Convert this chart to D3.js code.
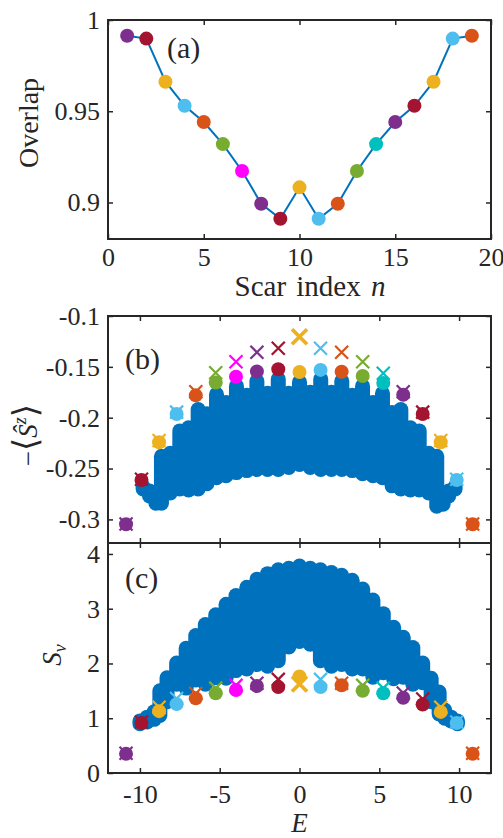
<!DOCTYPE html>
<html>
<head>
<meta charset="utf-8">
<script src="https://cdn.jsdelivr.net/npm/d3@7"></script>
<style>
  body { margin: 0; background: #fff; }
  svg text { font-family: "Liberation Serif", "DejaVu Serif", serif; fill: #262626; }
</style>
</head>
<body>
<svg width="503" height="838"></svg>
<script>
// ---- data ----
const scarN = [1, 2, 3, 4, 5, 6, 7, 8, 9, 10, 11, 12, 13, 14, 15, 16, 17, 18, 19];
const scarColors = ["#7E2F8E", "#A2142F", "#EDB120", "#4DBEEE", "#D95319", "#77AC30", "#FF00FF",
                    "#7E2F8E", "#A2142F", "#EDB120", "#4DBEEE", "#D95319", "#77AC30", "#00BFBF",
                    "#7E2F8E", "#A2142F", "#EDB120", "#4DBEEE", "#D95319"];
const overlap = [0.9914, 0.9898, 0.9662, 0.9530, 0.9441, 0.9320, 0.9173, 0.8993, 0.8911, 0.9083,
                 0.8911, 0.8993, 0.9173, 0.9320, 0.9441, 0.9530, 0.9662, 0.9898, 0.9914];
const scarE = [-10.87, -9.9, -8.8, -7.7, -6.5, -5.25, -3.98, -2.67, -1.33, 0,
               1.32, 2.64, 3.96, 5.25, 6.5, 7.72, 8.85, 9.85, 10.85];
// panel (b): -<S^z> of the scars (circles) and of the crosses
const szScar = [-0.3048, -0.2613, -0.2242, -0.1964, -0.1780, -0.1655, -0.1597, -0.1546, -0.1524, -0.1550,
                -0.1530, -0.1548, -0.1590, -0.1659, -0.1774, -0.1964, -0.2242, -0.2613, -0.3048];
const szCross = [-0.3045, -0.2605, -0.2225, -0.1945, -0.1745, -0.1558, -0.1449, -0.1357, -0.1318, -0.1204,
                 -0.1318, -0.1357, -0.1449, -0.1563, -0.1745, -0.1945, -0.2225, -0.2605, -0.3045];
// panel (c): S_v of the scars (circles) and of the crosses
const svScar = [0.35, 0.913, 1.129, 1.258, 1.363, 1.455, 1.516, 1.589, 1.571, 1.761,
                1.571, 1.602, 1.503, 1.455, 1.374, 1.252, 1.116, 0.913, 0.35];
const svCross = [0.36, 0.93, 1.2, 1.36, 1.45, 1.55, 1.6, 1.64, 1.71, 1.625,
                 1.71, 1.64, 1.6, 1.55, 1.46, 1.35, 1.2, 0.93, 0.36];

// full spectrum (blue), each entry is a column of overlapping eigenstates: E, lowest, highest
const specE_b  = [-9.8, -9.4, -9.0, -8.65, -8.1, -7.5, -6.95, -6.35, -5.8, -5.2, -4.6, -3.95, -3.3, -2.67, -2.0, -1.33, -0.67, 0,
                  0.67, 1.33, 2.0, 2.65, 3.3, 3.95, 4.6, 5.2, 5.8, 6.35, 6.95, 7.5, 8.1, 8.6, 9.0, 9.35, 9.75];
const specLo_b = [-0.270, -0.277, -0.284, -0.284, -0.274, -0.270, -0.271, -0.270, -0.265, -0.259, -0.257, -0.254, -0.252, -0.251, -0.251, -0.251, -0.249, -0.246,
                  -0.249, -0.251, -0.251, -0.251, -0.252, -0.255, -0.257, -0.259, -0.267, -0.270, -0.271, -0.271, -0.274, -0.287, -0.285, -0.277, -0.270];
const specHi_b = [-0.268, -0.272, -0.275, -0.238, -0.235, -0.213, -0.210, -0.192, -0.196, -0.177, -0.185, -0.169, -0.178, -0.164, -0.176, -0.162, -0.176, -0.165,
                  -0.175, -0.162, -0.175, -0.164, -0.178, -0.169, -0.185, -0.176, -0.195, -0.192, -0.210, -0.213, -0.235, -0.238, -0.276, -0.272, -0.268];

const specE_c  = [-10.0, -9.55, -9.1, -8.75, -8.3, -7.7, -7.1, -6.5, -5.9, -5.25, -4.6, -3.98, -3.3, -2.66, -2.0, -1.33, -0.67, 0,
                  0.67, 1.31, 2.0, 2.64, 3.3, 3.96, 4.6, 5.25, 5.9, 6.5, 7.1, 7.72, 8.25, 8.75, 9.1, 9.5, 9.9];
const specLo_c = [0.90, 0.93, 0.98, 1.05, 1.30, 1.62, 1.55, 1.70, 1.62, 1.74, 1.73, 1.87, 1.90, 1.98, 1.95, 2.05, 2.30, 2.40,
                  2.35, 2.05, 1.95, 1.98, 1.90, 1.90, 1.75, 1.83, 1.72, 1.75, 1.62, 1.65, 1.30, 1.08, 1.00, 0.95, 0.90];
const specHi_c = [0.95, 1.02, 1.12, 1.50, 1.74, 2.01, 2.28, 2.51, 2.71, 2.89, 3.08, 3.24, 3.39, 3.54, 3.64, 3.71, 3.74, 3.78,
                  3.74, 3.71, 3.66, 3.61, 3.52, 3.36, 3.16, 2.91, 2.66, 2.48, 2.29, 2.01, 1.73, 1.48, 1.15, 1.02, 0.95];

const ticksN = [0, 5, 10, 15, 20];
const ticksOverlap = [0.9, 0.95, 1];
const ticksE = [-10, -5, 0, 5, 10];
const ticksSz = [-0.3, -0.25, -0.2, -0.15, -0.1];
const ticksSv = [0, 1, 2, 3, 4];

// ---- layout ----
const svg = d3.select("svg");
const left = 108, right = 491;
const blue = "#0072BD", ink = "#262626";
const rDot = 7, rSpec = 7.5, hx = 6.5;
const tickFont = 26, labelFont = 28;

const xA = d3.scaleLinear([0, 20], [left, right]);
const yA = d3.scaleLinear([0.88, 1], [239, 20]);
const xE = d3.scaleLinear([-12, 12], [left, right]);
const yB = d3.scaleLinear([-0.3232, -0.1], [543, 316]);
const yC = d3.scaleLinear([0, 4.2], [773, 543]);

function drawAxes(x, y, xt, yt, showX, xPad) {
  const g = svg.append("g");
  const [y0, y1] = y.range();
  const fmt = (d) => String(d);
  const none = () => "";
  g.append("g").attr("transform", `translate(0,${y0})`)
    .call(d3.axisBottom(x).tickValues(xt).tickSize(-5).tickPadding(xPad).tickFormat(showX ? fmt : none));
  g.append("g").attr("transform", `translate(0,${y1})`)
    .call(d3.axisTop(x).tickValues(xt).tickSize(-5).tickFormat(none));
  g.append("g").attr("transform", `translate(${left},0)`)
    .call(d3.axisLeft(y).tickValues(yt).tickSize(-5).tickPadding(8).tickFormat(fmt));
  g.append("g").attr("transform", `translate(${right},0)`)
    .call(d3.axisRight(y).tickValues(yt).tickSize(-5).tickFormat(none));
  g.selectAll(".domain").remove();
  g.selectAll(".tick line").attr("stroke", ink).attr("stroke-width", 1.5);
  g.selectAll(".tick text").attr("font-size", tickFont).attr("fill", ink);
  g.selectAll("g").attr("font-family", null);
  g.append("rect")
    .attr("x", left).attr("y", y1)
    .attr("width", right - left).attr("height", y0 - y1)
    .attr("fill", "none").attr("stroke", ink).attr("stroke-width", 2);
}

function crossPath(h) {
  return `M${-h},${-h}L${h},${h}M${-h},${h}L${h},${-h}`;
}

// ---- (a) overlap ----
const ga = svg.append("g");
ga.append("path")
  .datum(scarN)
  .attr("fill", "none").attr("stroke", blue).attr("stroke-width", 2)
  .attr("d", d3.line().x((n) => xA(n)).y((n, i) => yA(overlap[i])));
ga.selectAll("circle").data(scarN).enter().append("circle")
  .attr("cx", (n) => xA(n)).attr("cy", (n, i) => yA(overlap[i]))
  .attr("r", rDot).attr("fill", (n, i) => scarColors[i]);
drawAxes(xA, yA, ticksN, ticksOverlap, true, 9);

// ---- (b) and (c) ----
function spectrumPanel(y, specE, specLo, specHi, scarVals, crossVals) {
  const g = svg.append("g");
  g.selectAll("line.spec").data(specE).enter().append("line")
    .attr("class", "spec")
    .attr("x1", (e) => xE(e)).attr("x2", (e) => xE(e))
    .attr("y1", (e, i) => y(specLo[i])).attr("y2", (e, i) => y(specHi[i]))
    .attr("stroke", blue).attr("stroke-width", 2 * rSpec).attr("stroke-linecap", "round");
  g.selectAll("path.cross").data(scarE).enter().append("path")
    .attr("class", "cross")
    .attr("transform", (e, i) => `translate(${xE(e)},${y(crossVals[i])})`)
    .attr("d", (e, i) => crossPath(i == 9 ? 7.5 : hx))
    .attr("fill", "none")
    .attr("stroke", (e, i) => scarColors[i])
    .attr("stroke-width", (e, i) => i == 9 ? 3.8 : 2.2);
  g.selectAll("circle").data(scarE).enter().append("circle")
    .attr("cx", (e) => xE(e)).attr("cy", (e, i) => y(scarVals[i]))
    .attr("r", rDot).attr("fill", (e, i) => scarColors[i]);
}

spectrumPanel(yB, specE_b, specLo_b, specHi_b, szScar, szCross);
drawAxes(xE, yB, ticksE, ticksSz, false, 10);
spectrumPanel(yC, specE_c, specLo_c, specHi_c, svScar, svCross);
drawAxes(xE, yC, ticksE, ticksSv, true, 12);

// ---- labels ----
svg.append("text").attr("x", 167).attr("y", 58).attr("font-size", 30).text("(a)");
svg.append("text").attr("x", 125).attr("y", 369).attr("font-size", 30).text("(b)");
svg.append("text").attr("x", 125).attr("y", 588).attr("font-size", 30).text("(c)");

const xl = svg.append("text").attr("x", 310).attr("y", 296)
  .attr("text-anchor", "middle").attr("font-size", 29).attr("word-spacing", 3);
xl.append("tspan").text("Scar index ");
xl.append("tspan").attr("font-style", "italic").text("n");

svg.append("text").attr("x", 299.5).attr("y", 832)
  .attr("text-anchor", "middle").attr("font-size", 27).attr("font-style", "italic").text("E");

svg.append("text")
  .attr("transform", "translate(38,123) rotate(-90)")
  .attr("text-anchor", "middle").attr("font-size", labelFont).text("Overlap");

const szl = svg.append("text")
  .attr("transform", "translate(37,435) rotate(-90)")
  .attr("text-anchor", "middle").attr("font-size", 27);
szl.append("tspan").text("−");
szl.append("tspan").attr("font-size", 34).attr("font-family", "DejaVu Serif").text("⟨");
szl.append("tspan").attr("font-style", "italic").text("Ŝ");
szl.append("tspan").attr("font-style", "italic").attr("font-size", 18).attr("dy", -11).text("z");
szl.append("tspan").attr("font-size", 34).attr("font-family", "DejaVu Serif").attr("dy", 11).text("⟩");

const svl = svg.append("text")
  .attr("transform", "translate(61,655) rotate(-90)")
  .attr("text-anchor", "middle").attr("font-size", 27);
svl.append("tspan").attr("font-style", "italic").text("S");
svl.append("tspan").attr("font-style", "italic").attr("font-size", 18).attr("dy", 5).text("v");
</script>
</body>
</html>
